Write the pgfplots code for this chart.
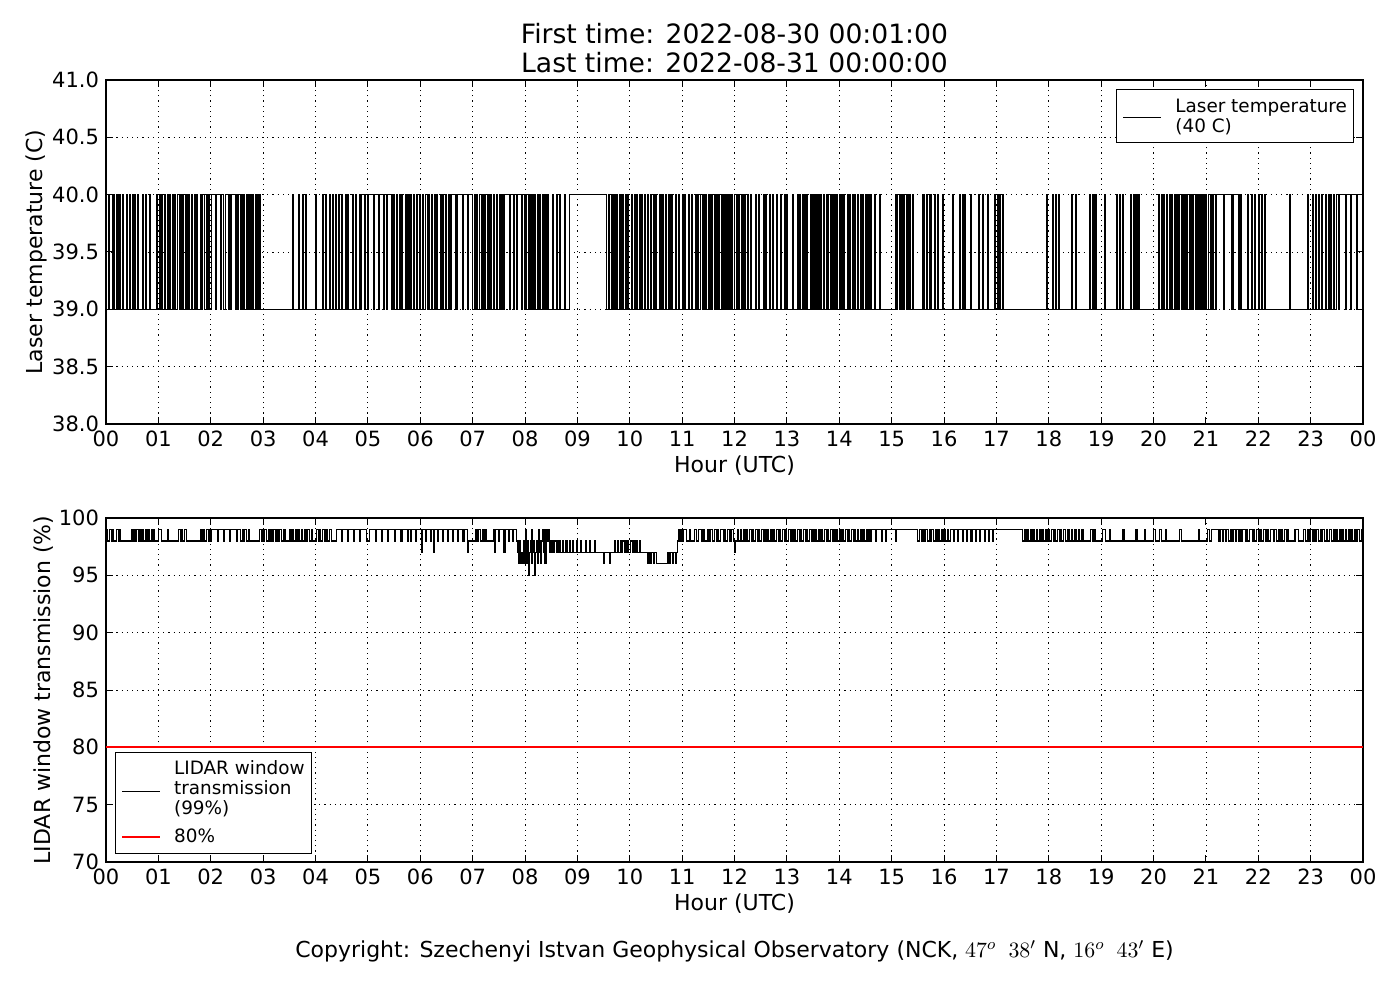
\documentclass[border=0pt]{standalone}
\usepackage{pgfplots}
\pgfplotsset{compat=1.18}
\usepackage{fontspec}
\setmainfont{DejaVu Sans}
\pgfplotsset{
  myax/.style={
    scale only axis, width=628.5pt, height=172pt,
    xmin=0, xmax=1440, xtick={0,60,...,1440},
    xticklabels={00,01,02,03,04,05,06,07,08,09,10,11,12,13,14,15,16,17,18,19,20,21,22,23,00},
    grid=major, major grid style={black, line width=0.4pt, dash pattern=on 0.6pt off 2pt},
    axis line style={line width=0.6pt}, tick style={black, line width=0.5pt}, major tick length=3.5pt,
    tick label style={font=\fontsize{10.5}{12}\selectfont},
    label style={font=\fontsize{11}{13}\selectfont},
    /pgf/number format/assume math mode=true,
    xlabel={Hour (UTC)},
    xlabel style={at={(axis description cs:0.5,-0.121)}, anchor=center},
  },
  mylegend/.style={draw=black, line width=0.5pt, fill=white,
    font=\fontsize{9.2}{10}\selectfont, inner xsep=3.3pt, inner ysep=3.3pt,
    column sep=7pt, row sep=0pt,
    nodes={inner sep=0pt, text height=8pt, text depth=2pt, anchor=base west},
    cells={anchor=base west}},
}
\begin{document}
\begin{tikzpicture}
\path[use as bounding box] (0,0) rectangle (700pt,500pt);
\node[font=\fontsize{13.3}{15}\selectfont, anchor=base] at (367.25pt,478pt) {First time: 2022-08-30 00:01:00};
\node[font=\fontsize{13.3}{15}\selectfont, anchor=base] at (367.25pt,463.5pt) {Last time: 2022-08-31 00:00:00};
\begin{axis}[myax, at={(53pt,288pt)}, anchor=south west,
  ymin=38, ymax=41, ytick={38,38.5,...,41},
  yticklabel style={/pgf/number format/.cd, fixed, fixed zerofill, precision=1},
  ylabel={Laser temperature (C)},
  ylabel style={at={(axis description cs:-0.0557,0.5)}, anchor=center},
  legend style={mylegend, at={(1,1)}, anchor=north east, xshift=-4.5pt, yshift=-4.5pt},
]
\addplot[const plot, black, line width=0.6pt,
  legend image code/.code={\path[draw=none,fill=none] (0pt,0pt) -- (19pt,0pt); \draw[overlay, black, line width=0.5pt] (0pt,-2.5pt) -- (19pt,-2.5pt);}] table[row sep=\\] {
x y\\
0 39\\ 3 40\\ 4 39\\ 8 40\\ 10 39\\ 12 40\\ 13 39\\ 15 40\\ 16 39\\ 19 40\\ 20 39\\ 24 40\\ 25 39\\ 27 40\\ 28 39\\ 30 40\\ 31 39\\ 33 40\\ 34 39\\ 36 40\\ 37 39\\ 42 40\\ 43 39\\ 45 40\\ 46 39\\ 50 40\\ 51 39\\
58 40\\ 59 39\\ 61 40\\ 63 39\\ 64 40\\ 65 39\\ 67 40\\ 68 39\\ 70 40\\ 72 39\\ 73 40\\ 74 39\\ 76 40\\ 77 39\\ 79 40\\ 80 39\\ 82 40\\ 84 39\\ 85 40\\ 86 39\\ 88 40\\ 89 39\\ 91 40\\ 92 39\\ 94 40\\ 96 39\\ 98 40\\ 99 39\\ 101 40\\ 102 39\\ 104 40\\ 105 39\\ 108 40\\ 109 39\\ 111 40\\ 113 39\\ 115 40\\ 116 39\\ 118 40\\ 119 39\\
121 40\\ 126 39\\ 127 40\\ 131 39\\ 132 40\\ 135 39\\ 137 40\\ 140 39\\ 141 40\\ 142 39\\ 144 40\\ 148 39\\ 149 40\\ 150 39\\ 152 40\\ 154 39\\ 155 40\\ 157 39\\ 158 40\\ 159 39\\
161 40\\ 162 39\\ 163 40\\ 164 39\\ 166 40\\ 167 39\\ 168 40\\ 169 39\\ 171 40\\ 172 39\\ 174 40\\ 175 39\\ 176 40\\ 177 39\\
214 40\\ 215 39\\ 221 40\\ 222 39\\ 225 40\\ 226 39\\ 229 40\\ 230 39\\ 240 40\\ 241 39\\ 248 40\\ 249 39\\ 252 40\\ 253 39\\ 256 40\\ 257 39\\ 260 40\\ 261 39\\ 263 40\\ 264 39\\ 266 40\\ 267 39\\ 270 40\\ 271 39\\ 274 40\\ 275 39\\ 277 40\\ 278 39\\ 282 40\\ 283 39\\ 286 40\\ 287 39\\
290 40\\ 292 39\\ 293 40\\ 296 39\\ 297 40\\ 300 39\\ 301 40\\ 306 39\\ 307 40\\ 312 39\\ 313 40\\ 318 39\\ 319 40\\ 321 39\\ 322 40\\ 327 39\\ 328 40\\ 330 39\\
333 40\\ 334 39\\ 336 40\\ 337 39\\ 339 40\\ 340 39\\ 343 40\\ 344 39\\ 346 40\\ 347 39\\ 349 40\\ 350 39\\ 352 40\\ 353 39\\ 356 40\\ 357 39\\ 359 40\\ 360 39\\
363 40\\ 364 39\\ 366 40\\ 368 39\\ 369 40\\ 370 39\\ 373 40\\ 374 39\\ 376 40\\ 377 39\\ 379 40\\ 380 39\\ 383 40\\ 384 39\\ 386 40\\ 387 39\\ 389 40\\ 390 39\\ 393 40\\ 394 39\\
396 40\\ 401 39\\ 402 40\\ 408 39\\ 409 40\\ 414 39\\ 415 40\\ 420 39\\
422 40\\ 423 39\\ 425 40\\ 426 39\\ 428 40\\ 430 39\\ 431 40\\ 432 39\\ 434 40\\ 435 39\\ 437 40\\ 438 39\\ 440 40\\ 441 39\\ 444 40\\ 445 39\\ 447 40\\ 448 39\\ 451 40\\ 452 39\\ 453 40\\ 454 39\\
456 40\\ 462 39\\ 463 40\\ 467 39\\ 468 40\\ 470 39\\ 471 40\\ 476 39\\ 477 40\\ 479 39\\
481 40\\ 482 39\\ 484 40\\ 485 39\\ 486 40\\ 487 39\\ 489 40\\ 490 39\\ 491 40\\ 492 39\\ 494 40\\ 495 39\\ 497 40\\ 498 39\\ 500 40\\ 501 39\\ 503 40\\ 504 39\\ 506 40\\ 507 39\\
512 40\\ 513 39\\ 516 40\\ 517 39\\ 520 40\\ 521 39\\ 525 40\\ 526 39\\
531 40\\ 573 39\\
576 40\\ 577 39\\ 579 40\\ 580 39\\ 582 40\\ 583 39\\ 585 40\\ 586 39\\ 588 40\\ 590 39\\ 592 40\\ 593 39\\ 595 40\\ 596 39\\ 598 40\\ 599 39\\
602 40\\ 603 39\\ 605 40\\ 606 39\\ 608 40\\ 609 39\\ 611 40\\ 612 39\\ 614 40\\ 615 39\\ 617 40\\ 618 39\\ 620 40\\ 621 39\\ 624 40\\ 625 39\\ 627 40\\ 628 39\\ 630 40\\ 631 39\\ 634 40\\ 635 39\\ 637 40\\ 638 39\\ 641 40\\ 642 39\\ 645 40\\ 646 39\\ 648 40\\ 649 39\\ 652 40\\ 653 39\\ 656 40\\ 657 39\\ 660 40\\ 661 39\\ 663 40\\ 664 39\\ 667 40\\ 668 39\\ 671 40\\ 672 39\\ 675 40\\ 676 39\\ 678 40\\ 679 39\\
681 40\\ 683 39\\ 684 40\\ 686 39\\ 687 40\\ 688 39\\ 690 40\\ 692 39\\ 693 40\\ 694 39\\ 695 40\\ 697 39\\ 698 40\\ 700 39\\ 701 40\\ 702 39\\ 703 40\\ 705 39\\ 706 40\\ 707 39\\ 709 40\\ 711 39\\ 712 40\\ 713 39\\ 714 40\\ 716 39\\ 717 40\\ 718 39\\ 720 40\\ 722 39\\ 723 40\\ 724 39\\ 726 40\\ 728 39\\ 729 40\\ 730 39\\ 732 40\\ 733 39\\ 735 40\\ 736 39\\ 738 40\\ 739 39\\
744 40\\ 745 39\\ 748 40\\ 749 39\\ 753 40\\ 754 39\\ 756 40\\ 757 39\\ 760 40\\ 761 39\\ 764 40\\ 765 39\\ 768 40\\ 769 39\\ 773 40\\ 774 39\\ 777 40\\ 778 39\\ 780 40\\ 781 39\\ 786 40\\ 787 39\\
792 40\\ 793 39\\ 795 40\\ 796 39\\ 798 40\\ 799 39\\ 800 40\\ 801 39\\ 803 40\\ 804 39\\ 807 40\\ 808 39\\ 810 40\\ 811 39\\ 813 40\\ 814 39\\ 815 40\\ 816 39\\ 818 40\\ 819 39\\ 822 40\\ 823 39\\ 825 40\\ 826 39\\ 828 40\\ 830 39\\ 831 40\\ 832 39\\ 834 40\\ 835 39\\ 837 40\\ 838 39\\ 840 40\\ 841 39\\ 843 40\\ 844 39\\ 845 40\\ 846 39\\
849 40\\ 850 39\\ 852 40\\ 853 39\\ 855 40\\ 856 39\\ 858 40\\ 859 39\\ 861 40\\ 862 39\\ 864 40\\ 865 39\\ 867 40\\ 868 39\\ 870 40\\ 871 39\\ 873 40\\ 874 39\\ 876 40\\ 877 39\\ 880 40\\ 881 39\\ 886 40\\ 887 39\\
905 40\\ 906 39\\ 907 40\\ 909 39\\ 910 40\\ 911 39\\ 913 40\\ 914 39\\ 915 40\\ 917 39\\ 918 40\\ 919 39\\ 921 40\\ 922 39\\ 924 40\\ 925 39\\ 936 40\\ 937 39\\ 940 40\\ 941 39\\ 944 40\\ 945 39\\ 949 40\\ 950 39\\ 953 40\\ 954 39\\ 958 40\\ 959 39\\
970 40\\ 971 39\\ 978 40\\ 979 39\\ 981 40\\ 982 39\\ 983 40\\ 984 39\\ 990 40\\ 991 39\\ 1000 40\\ 1001 39\\ 1004 40\\ 1005 39\\ 1010 40\\ 1011 39\\
1018 40\\ 1019 39\\ 1021 40\\ 1023 39\\ 1024 40\\ 1025 39\\ 1027 40\\ 1028 39\\
1078 40\\ 1079 39\\ 1084 40\\ 1085 39\\ 1088 40\\ 1089 39\\ 1091 40\\ 1092 39\\ 1106 40\\ 1107 39\\ 1111 40\\ 1112 39\\
1127 40\\ 1128 39\\ 1130 40\\ 1131 39\\ 1133 40\\ 1134 39\\ 1144 40\\ 1145 39\\ 1158 40\\ 1159 39\\ 1161 40\\ 1162 39\\ 1165 40\\ 1166 39\\ 1174 40\\ 1175 39\\ 1177 40\\ 1178 39\\ 1180 40\\ 1181 39\\ 1183 40\\ 1184 39\\
1206 40\\ 1207 39\\ 1209 40\\ 1210 39\\ 1212 40\\ 1213 39\\ 1215 40\\ 1216 39\\ 1218 40\\ 1220 39\\ 1221 40\\ 1222 39\\ 1224 40\\ 1225 39\\ 1227 40\\ 1228 39\\ 1230 40\\ 1232 39\\ 1233 40\\ 1234 39\\ 1235 40\\ 1237 39\\ 1238 40\\ 1239 39\\ 1241 40\\ 1243 39\\ 1244 40\\ 1245 39\\ 1246 40\\ 1248 39\\ 1249 40\\ 1250 39\\ 1252 40\\ 1254 39\\ 1255 40\\ 1256 39\\ 1257 40\\ 1259 39\\ 1260 40\\ 1261 39\\ 1263 40\\ 1265 39\\ 1266 40\\ 1267 39\\ 1269 40\\ 1271 39\\
1272 40\\ 1280 39\\ 1281 40\\ 1290 39\\ 1291 40\\ 1298 39\\ 1299 40\\ 1301 39\\
1308 40\\ 1309 39\\ 1312 40\\ 1313 39\\ 1316 40\\ 1317 39\\ 1320 40\\ 1321 39\\ 1324 40\\ 1325 39\\ 1327 40\\ 1328 39\\
1356 40\\ 1357 39\\
1376 40\\ 1377 39\\ 1382 40\\ 1383 39\\ 1386 40\\ 1387 39\\ 1389 40\\ 1390 39\\ 1393 40\\ 1394 39\\ 1397 40\\ 1398 39\\ 1400 40\\ 1401 39\\ 1403 40\\ 1404 39\\ 1406 40\\ 1407 39\\ 1410 40\\ 1412 39\\ 1413 40\\ 1420 39\\ 1421 40\\ 1426 39\\ 1427 40\\ 1433 39\\ 1434 40\\ 1440 40\\
};
\addlegendentry{Laser temperature}
\addlegendimage{empty legend}
\addlegendentry{(40 C)}
\end{axis}

\begin{axis}[myax, at={(53pt,69pt)}, anchor=south west,
  ymin=70, ymax=100, ytick={70,75,...,100},
  ylabel={LIDAR window transmission (\%)},
  ylabel style={at={(axis description cs:-0.0497,0.5)}, anchor=center},
  legend style={mylegend, at={(0,0)}, anchor=south west, xshift=4.5pt, yshift=4pt},
]
\addplot[const plot, black, line width=0.6pt,
  legend image code/.code={\path[draw=none,fill=none] (0pt,0pt) -- (19pt,0pt); \draw[overlay, black, line width=0.5pt] (0pt,-8.5pt) -- (19pt,-8.5pt);}] table[row sep=\\] {
x y\\
0 99\\ 2 98\\ 4 99\\ 6 98\\ 8 99\\ 9 98\\ 12 99\\ 14 98\\ 16 99\\ 17 98\\
29 99\\ 31 98\\ 32 99\\ 34 98\\ 35 99\\ 37 98\\ 38 99\\ 40 98\\ 42 99\\ 43 98\\ 45 99\\ 47 98\\ 48 99\\ 50 98\\ 52 99\\ 53 98\\ 55 99\\ 56 98\\
60 99\\ 64 98\\ 70 99\\ 72 98\\
83 99\\ 85 98\\ 87 99\\ 88 98\\ 90 99\\ 92 98\\
108 99\\ 110 98\\ 112 99\\ 113 98\\ 115 99\\ 117 98\\ 118 99\\ 120 98\\
121 99\\ 128 98\\ 129 99\\ 135 98\\ 136 99\\ 142 98\\ 143 99\\ 150 98\\ 151 99\\ 154 98\\
156 99\\ 157 98\\ 159 99\\ 161 98\\ 163 99\\ 164 98\\
176 99\\ 178 98\\ 179 99\\ 181 98\\ 182 99\\ 184 98\\ 186 99\\ 187 98\\ 189 99\\ 191 98\\ 192 99\\ 194 98\\ 196 99\\ 197 98\\ 199 99\\ 201 98\\ 203 99\\ 205 98\\
210 99\\ 212 98\\ 213 99\\ 215 98\\ 217 99\\ 218 98\\ 220 99\\ 222 98\\ 224 99\\ 225 98\\ 227 99\\ 229 98\\ 231 99\\ 233 98\\ 235 99\\ 236 98\\
241 99\\ 243 98\\ 245 99\\ 246 98\\ 248 99\\ 250 98\\ 252 99\\ 254 98\\ 256 99\\ 258 98\\
264 99\\ 270 98\\ 271 99\\ 277 98\\ 278 99\\ 284 98\\ 285 99\\ 291 98\\ 292 99\\ 298 98\\
302 99\\ 309 98\\ 310 99\\ 316 98\\ 317 99\\ 323 98\\ 324 99\\ 331 98\\ 332 99\\ 338 98\\ 339 99\\ 345 98\\ 346 99\\ 349 98\\
350 99\\ 355 98\\ 356 99\\ 361 97\\ 362 99\\ 366 98\\ 367 99\\ 372 98\\ 373 99\\ 375 97\\ 376 99\\ 380 98\\ 381 99\\ 386 98\\ 387 99\\ 391 98\\ 392 99\\ 397 98\\ 398 99\\ 403 98\\ 404 99\\ 409 98\\ 410 99\\ 414 97\\ 415 98\\
423 99\\ 425 98\\ 427 99\\ 429 98\\ 431 99\\ 433 98\\ 435 99\\ 436 98\\
444 99\\ 445 97\\ 446 99\\ 450 98\\ 451 99\\ 456 97\\ 457 99\\ 461 98\\ 462 99\\ 466 98\\ 467 99\\ 470 98\\
472 97\\ 473 96\\ 474 98\\ 475 96\\ 476 97\\ 477 96\\ 478 98\\ 479 96\\ 480 97\\ 481 99\\ 482 96\\ 483 98\\ 484 95\\ 485 97\\ 486 98\\ 487 96\\ 488 99\\ 489 97\\ 490 98\\ 491 95\\ 492 97\\ 493 98\\ 494 96\\ 495 99\\ 496 97\\ 497 98\\ 498 96\\ 499 98\\ 500 99\\ 501 97\\ 502 99\\ 503 96\\ 504 98\\ 505 99\\ 506 98\\ 507 99\\ 508 97\\ 509 98\\ 510 97\\ 511 98\\
513 97\\ 514 98\\ 516 97\\ 517 98\\ 518 97\\ 520 98\\ 521 97\\ 523 98\\ 524 97\\ 527 98\\ 528 97\\ 531 98\\ 532 97\\ 535 98\\ 536 97\\ 539 98\\ 540 97\\ 544 98\\ 545 97\\ 549 98\\ 550 97\\ 554 98\\ 555 97\\ 560 98\\ 561 97\\
570 96\\ 571 97\\ 577 96\\ 578 97\\
583 98\\ 584 97\\ 586 98\\ 587 97\\ 589 98\\ 590 97\\ 592 98\\ 594 97\\ 595 98\\ 596 97\\ 598 98\\ 599 97\\ 601 98\\ 603 97\\ 604 98\\ 606 97\\ 608 98\\ 609 97\\ 611 98\\ 612 97\\
621 96\\ 622 97\\ 624 96\\ 625 97\\ 627 96\\ 628 97\\ 631 96\\ 643 97\\ 645 96\\ 646 97\\ 649 96\\ 650 97\\ 652 96\\ 653 97\\
655 98\\ 656 99\\ 657 98\\ 658 99\\ 659 98\\
661 99\\ 665 98\\ 668 99\\ 670 98\\ 674 99\\ 676 98\\ 679 99\\ 682 98\\ 684 99\\ 686 98\\ 689 99\\ 690 98\\ 692 99\\ 695 98\\ 697 99\\ 699 98\\ 701 99\\ 702 98\\ 704 99\\ 707 98\\ 709 99\\ 710 98\\ 712 99\\ 714 98\\ 716 99\\ 719 98\\ 720 97\\ 721 98\\ 723 99\\ 725 98\\ 727 99\\ 728 98\\ 730 99\\ 732 98\\ 734 99\\ 735 98\\ 737 99\\ 739 98\\ 741 99\\ 742 98\\ 744 99\\ 746 98\\ 748 99\\ 749 98\\
751 99\\ 753 98\\ 754 99\\ 756 98\\ 758 99\\ 759 98\\ 761 99\\ 763 98\\ 765 99\\ 766 98\\ 768 99\\ 770 98\\ 771 99\\ 773 98\\ 775 99\\ 777 98\\ 778 99\\ 780 98\\ 782 99\\ 784 98\\ 785 99\\ 787 98\\ 789 99\\ 790 98\\ 792 99\\ 794 98\\ 796 99\\ 797 98\\ 799 99\\ 801 98\\ 802 99\\ 804 98\\ 806 99\\ 808 98\\ 809 99\\ 811 98\\ 813 99\\ 814 98\\ 816 99\\ 818 98\\ 820 99\\ 821 98\\ 823 99\\ 825 98\\ 826 99\\ 828 98\\ 830 99\\ 832 98\\ 833 99\\ 835 98\\ 837 99\\ 838 98\\ 840 99\\ 842 98\\ 844 99\\ 845 98\\ 847 99\\ 849 98\\ 850 99\\ 852 98\\ 854 99\\ 856 98\\ 857 99\\ 859 98\\ 861 99\\ 862 98\\ 864 99\\ 866 98\\ 868 99\\ 869 98\\ 871 99\\ 873 98\\ 874 99\\ 876 98\\
877 99\\ 882 98\\ 883 99\\ 888 98\\ 889 99\\ 893 98\\ 894 99\\ 904 98\\ 905 99\\ 930 98\\
932 99\\ 934 98\\ 936 99\\ 937 98\\ 939 99\\ 941 98\\ 943 99\\ 944 98\\ 946 99\\ 948 98\\ 950 99\\ 951 98\\ 953 99\\ 955 98\\ 957 99\\ 958 98\\ 960 99\\ 962 98\\ 964 99\\ 965 98\\
967 99\\ 971 98\\ 972 99\\ 976 98\\ 977 99\\ 981 98\\ 982 99\\ 986 98\\ 987 99\\ 991 98\\ 992 99\\ 996 98\\ 997 99\\ 1001 98\\ 1002 99\\ 1006 98\\ 1007 99\\ 1011 98\\ 1012 99\\ 1016 98\\ 1017 99\\ 1050 98\\
1052 99\\ 1054 98\\ 1055 99\\ 1057 98\\ 1059 99\\ 1060 98\\ 1062 99\\ 1064 98\\ 1066 99\\ 1067 98\\ 1069 99\\ 1071 98\\ 1073 99\\ 1074 98\\ 1076 99\\ 1078 98\\ 1080 99\\ 1081 98\\ 1083 99\\ 1085 98\\ 1087 99\\ 1088 98\\ 1090 99\\ 1092 98\\ 1094 99\\ 1095 98\\ 1097 99\\ 1099 98\\
1102 99\\ 1104 98\\ 1106 99\\ 1107 98\\ 1110 99\\ 1112 98\\ 1114 99\\ 1115 98\\ 1118 99\\ 1120 98\\
1128 99\\ 1130 98\\ 1131 99\\ 1133 98\\ 1142 99\\ 1145 98\\ 1150 99\\ 1151 98\\ 1165 99\\ 1167 98\\ 1180 99\\ 1182 98\\ 1190 99\\ 1191 98\\
1200 99\\ 1202 98\\ 1207 99\\ 1209 98\\ 1214 99\\ 1215 98\\ 1230 99\\ 1232 98\\ 1252 99\\ 1253 98\\ 1262 99\\ 1264 98\\
1266 99\\ 1275 98\\
1277 99\\ 1279 98\\ 1280 99\\ 1283 98\\ 1284 99\\ 1286 98\\ 1288 99\\ 1290 98\\ 1291 99\\ 1294 98\\ 1295 99\\ 1297 98\\ 1299 99\\ 1301 98\\ 1302 99\\ 1305 98\\ 1307 99\\ 1308 98\\ 1310 99\\ 1313 98\\ 1314 99\\ 1316 98\\ 1318 99\\ 1320 98\\ 1322 99\\ 1324 98\\ 1326 99\\ 1328 98\\ 1330 99\\ 1332 98\\ 1334 99\\ 1337 98\\ 1339 99\\ 1341 98\\ 1343 99\\ 1345 98\\ 1347 99\\ 1348 98\\ 1350 99\\ 1352 98\\ 1354 99\\ 1355 98\\
1362 99\\ 1366 98\\ 1372 99\\ 1374 98\\
1376 99\\ 1378 98\\ 1380 99\\ 1382 98\\ 1383 99\\ 1385 98\\ 1387 99\\ 1389 98\\ 1391 99\\ 1392 98\\ 1394 99\\ 1396 98\\ 1398 99\\ 1399 98\\ 1402 99\\ 1404 98\\ 1406 99\\ 1407 98\\ 1409 99\\ 1411 98\\ 1413 99\\ 1414 98\\ 1416 99\\ 1418 98\\ 1420 99\\ 1421 98\\ 1423 99\\ 1425 98\\ 1427 99\\ 1428 98\\ 1430 99\\ 1432 98\\ 1434 99\\ 1436 98\\ 1438 99\\ 1440 99\\
};
\addlegendentry{LIDAR window}
\addlegendimage{empty legend}
\addlegendentry{transmission}
\addlegendimage{empty legend}
\addlegendentry{(99\%)}
\addplot[red, line width=1pt,
  legend image code/.code={\path[draw=none,fill=none] (0pt,0pt) -- (19pt,0pt); \draw[overlay, red, line width=1pt] (0pt,3pt) -- (19pt,3pt);}] coordinates {(0,80) (1440,80)};
\addlegendentry[text height=12pt]{80\%}
\end{axis}
\node[font=\fontsize{11}{13}\selectfont, anchor=base] at (367.25pt,21.5pt) {Copyright: Szechenyi Istvan Geophysical Observatory (NCK, $47^o\;\;38'$ N, $16^o\;\;43'$ E)};
\end{tikzpicture}
\end{document}
